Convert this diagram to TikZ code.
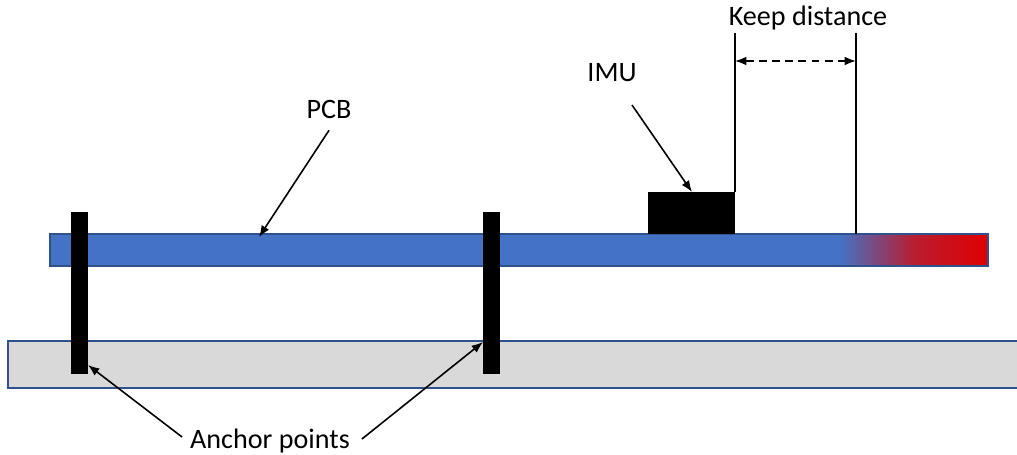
\documentclass[tikz,border=0pt]{standalone}
\usepackage{fontspec}
\setmainfont{Carlito}
\usetikzlibrary{arrows.meta}
\tikzset{>={Latex[length=6.5pt,width=5pt]}}
\definecolor{pcbblue}{HTML}{4472C4}
\definecolor{edgeblue}{HTML}{2F528F}
\definecolor{basegray}{HTML}{D9D9D9}
\definecolor{hotred}{HTML}{E00000}
\tikzset{
  lbl/.style = {font=\fontsize{16}{19}\selectfont, inner sep=1pt},
  pointer/.style = {->, line width=0.9pt},
  board/.style = {draw=edgeblue, line width=0.6pt},
  post/.style = {fill=black}
}

\begin{document}
\begin{tikzpicture}[x=0.02cm,y=-0.02cm]
  \useasboundingbox (0,0) rectangle (1017,454);
  % base plate and board
  \draw[board,fill=basegray] (8,341) rectangle (1030,388);
  \fill[pcbblue] (50,234) rectangle (840,266);
  \shade[left color=pcbblue,right color=hotred,middle color=hotred!75!pcbblue] (840,234) rectangle (988,266);
  \draw[board] (50,234) rectangle (988,266);
  % anchors and imu
  \fill[post] (71,212) rectangle (88,374);
  \fill[post] (483,212) rectangle (500,374);
  \fill[post] (648,192) rectangle (735,234);
  % keep distance marks
  \coordinate (kl) at (735,61);
  \coordinate (kr) at (856,61);
  \draw[line width=0.6pt] (735,33) -- (735,192);
  \draw[line width=0.6pt] (856,33) -- (856,234);
  \draw[<->,dash pattern=on 4.5pt off 3pt,line width=0.9pt] (kl) -- (kr);
  \node[lbl] (keep) at (808,18) {Keep distance};
  % labels
  \node[lbl] (imu) at (612,73) {IMU};
  \coordinate (imutip) at (692,192);
  \draw[pointer] (632,105) -- (imutip);
  \node[lbl] (pcb) at (329,109) {PCB};
  \coordinate (pcbtip) at (259,237);
  \draw[pointer] (pcb.south) ++(0,10) -- (pcbtip);
  \node[lbl] (anchor) at (270,441) {Anchor points};
  \coordinate (a1) at (88,365);
  \coordinate (a2) at (483,342);
  \draw[pointer] (anchor.west) ++(-6,-4) -- (a1);
  \draw[pointer] (anchor.east) ++(10,-2) -- (a2);
\end{tikzpicture}
\end{document}
